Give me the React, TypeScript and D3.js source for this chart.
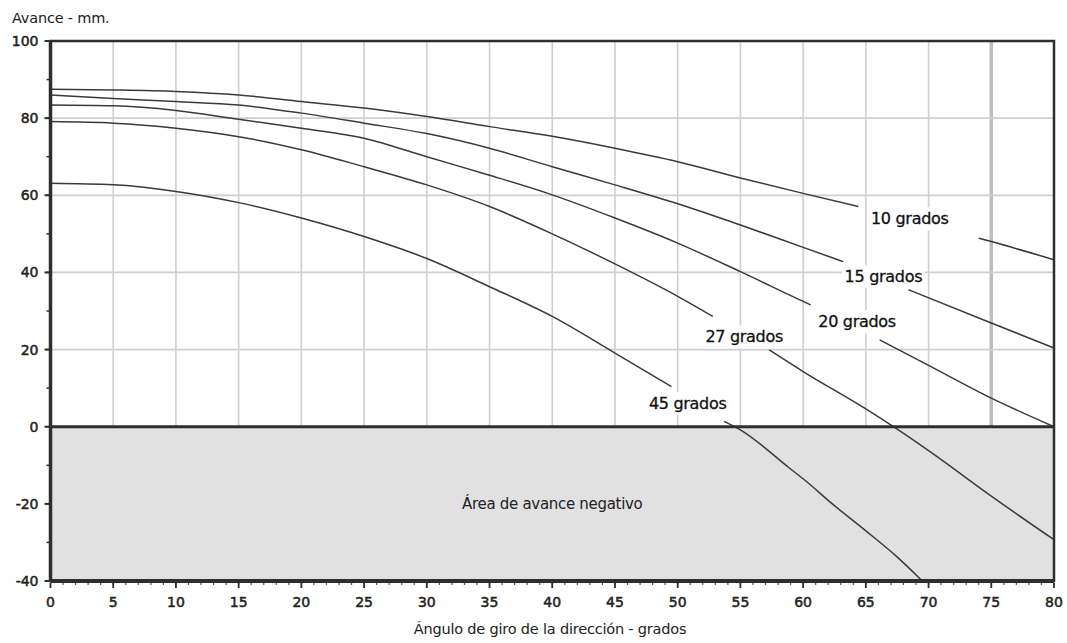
import React, { useEffect, useRef } from "react";
import * as d3 from "d3";

// Avance (mm) vs ángulo de giro, one curve per grados value.
// null marks where the curve is interrupted by its label.
type Pt = [number, number | null];

const curveNames = ["10 grados", "15 grados", "20 grados", "27 grados", "45 grados"];

const curve10: Pt[] = [
  [0, 87.5], [5, 87.3], [10, 86.9], [15, 86.0], [20, 84.3], [25, 82.6], [30, 80.4],
  [35, 77.8], [40, 75.3], [45, 72.2], [50, 68.7], [55, 64.5], [60, 60.5], [64.4, 57.1],
  [69, null], [74, 48.9], [75, 48.0], [80, 43.3],
];
const curve15: Pt[] = [
  [0, 86.0], [5, 85.1], [10, 84.3], [15, 83.4], [20, 81.3], [25, 78.7], [30, 76.0],
  [35, 72.2], [40, 67.4], [45, 62.7], [50, 57.8], [55, 52.3], [60, 46.5], [63.2, 42.8],
  [66, null], [68.4, 35.5], [75, 26.9], [80, 20.4],
];
const curve20: Pt[] = [
  [0, 83.4], [5, 83.2], [10, 82.0], [15, 79.7], [20, 77.4], [25, 74.8], [30, 70.0],
  [35, 65.2], [40, 60.1], [45, 54.1], [50, 47.6], [55, 40.2], [60, 32.5], [60.6, 31.6],
  [63, null], [66.1, 22.5], [70, 15.9], [75, 7.4], [80, 0],
];
const curve27: Pt[] = [
  [0, 79.1], [5, 78.7], [10, 77.4], [15, 75.2], [20, 71.8], [25, 67.4], [30, 62.7],
  [35, 57.1], [40, 50.0], [45, 42.2], [50, 33.8], [52.8, 28.6],
  [55, null], [57.3, 19.9], [60, 14.3], [65, 4.6], [67.2, 0], [70, -6.2], [75, -18.0], [80, -29.3],
];
const curve45: Pt[] = [
  [0, 63.1], [5, 62.7], [10, 61.0], [15, 58.1], [20, 54.1], [25, 49.3], [30, 43.6],
  [35, 36.3], [40, 28.6], [45, 19.1], [49.5, 10.4],
  [52, null], [53.7, 1.4], [55, -0.8], [58.9, -10.7], [60, -13.5], [62.4, -20.2],
  [65, -27.0], [67.4, -33.5], [69.5, -40],
];
const curves = [curve10, curve15, curve20, curve27, curve45];

// label anchor (angle, avance) for each curve name
const labelAt: [number, number][] = [[68.5, 53.9], [66.4, 38.9], [64.3, 27.2], [55.3, 23.3], [50.8, 6.0]];

const xMajor = d3.range(0, 81, 5);
const xMinor = d3.range(0, 81, 1);
const yMajor = [-40, -20, 0, 20, 40, 60, 80, 100];
const yMinor = d3.range(-40, 101, 10);
const gridY = [20, 40, 60, 80];

const yTitle = "Avance - mm.";
const xTitle = "Ángulo de giro  de la dirección - grados";
const areaText = "Área de avance negativo";

const W = 1067, H = 643;
const FONT = "'DejaVu Sans', sans-serif";

export default function App() {
  const ref = useRef<SVGSVGElement>(null);

  useEffect(() => {
    const svg = d3.select(ref.current);
    svg.selectAll("*").remove();

    const x = d3.scaleLinear().domain([0, 80]).range([50.5, 1054]);
    const y = d3.scaleLinear().domain([-40, 100]).range([581, 41]);
    const frame = "#2e2e2e";

    svg.append("rect").attr("width", W).attr("height", H).attr("fill", "#fff");

    // negative area
    svg.append("rect")
      .attr("x", x(0)).attr("y", y(0))
      .attr("width", x(80) - x(0)).attr("height", y(-40) - y(0))
      .attr("fill", "#e1e1e1");

    // grid
    const g = svg.append("g");
    g.selectAll("line.v").data(xMajor.filter(d => d > 0 && d < 80)).enter().append("line")
      .attr("x1", d => x(d)).attr("x2", d => x(d))
      .attr("y1", y(100)).attr("y2", y(0))
      .attr("stroke", d => d === 75 ? "#bdbdbd" : "#cfcfcf")
      .attr("stroke-width", d => d === 75 ? 3.5 : 1.6);
    g.selectAll("line.h").data(gridY).enter().append("line")
      .attr("x1", x(0)).attr("x2", x(80))
      .attr("y1", d => y(d)).attr("y2", d => y(d))
      .attr("stroke", "#cfcfcf").attr("stroke-width", 1.8);

    // label backgrounds hide grid behind text
    const labels = svg.append("g")
      .attr("font-family", FONT).attr("font-size", 16).attr("fill", "#111")
      .attr("stroke", "#111").attr("stroke-width", 0.3);
    curveNames.forEach((name, i) => {
      const t = labels.append("text")
        .attr("x", x(labelAt[i][0])).attr("y", y(labelAt[i][1]))
        .attr("text-anchor", "middle").attr("dominant-baseline", "central")
        .attr("letter-spacing", -0.3)
        .text(name);
      const b = (t.node() as SVGTextElement).getBBox();
      labels.insert("rect", "text")
        .attr("x", b.x - 3).attr("y", b.y - 2)
        .attr("width", b.width + 6).attr("height", b.height + 4)
        .attr("fill", "#fff").attr("stroke", "none");
    });

    // curves
    const line = d3.line<Pt>()
      .defined(d => d[1] !== null)
      .x(d => x(d[0]))
      .y(d => y(d[1] as number))
      .curve(d3.curveMonotoneX);
    svg.append("g").selectAll("path").data(curves).enter().append("path")
      .attr("d", d => line(d))
      .attr("fill", "none")
      .attr("stroke", "#3a3a3a")
      .attr("stroke-width", 1.5);

    // frame
    svg.append("rect")
      .attr("x", x(0)).attr("y", y(100))
      .attr("width", x(80) - x(0)).attr("height", y(-40) - y(100))
      .attr("fill", "none").attr("stroke", frame).attr("stroke-width", 2.5);
    svg.append("line")
      .attr("x1", x(0)).attr("x2", x(80)).attr("y1", y(0)).attr("y2", y(0))
      .attr("stroke", frame).attr("stroke-width", 3);
    svg.append("line")
      .attr("x1", x(0)).attr("x2", x(80)).attr("y1", y(-40)).attr("y2", y(-40))
      .attr("stroke", frame).attr("stroke-width", 4);
    svg.append("line")
      .attr("x1", x(0)).attr("x2", x(0)).attr("y1", y(100)).attr("y2", y(-40))
      .attr("stroke", frame).attr("stroke-width", 3.5);

    // axes ticks
    const xAxis = svg.append("g").attr("transform", "translate(0," + (y(-40) + 2) + ")");
    xAxis.selectAll("line.mi").data(xMinor).enter().append("line")
      .attr("x1", d => x(d)).attr("x2", d => x(d)).attr("y1", 0).attr("y2", 2)
      .attr("stroke", "#555").attr("stroke-width", 1.2);
    xAxis.selectAll("line.ma").data(xMajor).enter().append("line")
      .attr("x1", d => x(d)).attr("x2", d => x(d)).attr("y1", 0).attr("y2", 5)
      .attr("stroke", frame).attr("stroke-width", 1.8);
    xAxis.selectAll("text").data(xMajor).enter().append("text")
      .attr("x", d => x(d)).attr("y", 24)
      .attr("text-anchor", "middle")
      .attr("font-family", FONT).attr("font-size", 14).attr("fill", "#222")
      .attr("stroke", "#222").attr("stroke-width", 0.5)
      .text(d => String(d));

    const yAxis = svg.append("g").attr("transform", "translate(" + (x(0) - 1) + ",0)");
    yAxis.selectAll("line.mi").data(yMinor).enter().append("line")
      .attr("x1", -3).attr("x2", 0).attr("y1", d => y(d)).attr("y2", d => y(d))
      .attr("stroke", frame).attr("stroke-width", 1.5);
    yAxis.selectAll("line.ma").data(yMajor).enter().append("line")
      .attr("x1", -5).attr("x2", 0).attr("y1", d => y(d)).attr("y2", d => y(d))
      .attr("stroke", frame).attr("stroke-width", 2);
    yAxis.selectAll("text").data(yMajor).enter().append("text")
      .attr("x", -11).attr("y", d => y(d))
      .attr("text-anchor", "end").attr("dominant-baseline", "central")
      .attr("font-family", FONT).attr("font-size", 14).attr("fill", "#222")
      .attr("stroke", "#222").attr("stroke-width", 0.5)
      .text(d => String(d));

    // titles
    svg.append("text").attr("x", 12).attr("y", 23)
      .attr("font-family", FONT).attr("font-size", 14.5).attr("fill", "#222")
      .attr("letter-spacing", -0.2)
      .text(yTitle);
    svg.append("text").attr("x", 550).attr("y", 634)
      .attr("text-anchor", "middle")
      .attr("font-family", FONT).attr("font-size", 14.5).attr("fill", "#222")
      .attr("letter-spacing", -0.2)
      .text(xTitle);
    svg.append("text").attr("x", (x(0) + x(80)) / 2).attr("y", y(-20))
      .attr("text-anchor", "middle").attr("dominant-baseline", "central")
      .attr("font-family", FONT).attr("font-size", 15).attr("fill", "#222")
      .attr("letter-spacing", -0.3)
      .text(areaText);
  }, []);

  return (
    <svg ref={ref} width={W} height={H}
      style={{ position: "absolute", left: 0, top: 0, display: "block" }} />
  );
}
